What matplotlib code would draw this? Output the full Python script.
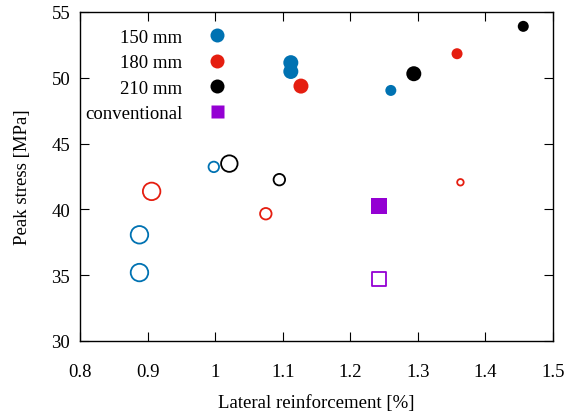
import numpy as np
import matplotlib
matplotlib.use("Agg")
import matplotlib.pyplot as plt
from matplotlib.lines import Line2D

plt.rcParams['font.family'] = ['Liberation Serif', 'DejaVu Serif']
plt.rcParams['font.size'] = 13.5

DPI = 100
FS = 13.5

# lateral reinforcement [%] / peak stress [MPa] / marker diameter [px]
x_150_full = [1.112, 1.112, 1.260]
y_150_full = [51.15, 50.48, 49.04]
d_150_full = [15, 15, 11]
x_150_open = [0.998, 0.888, 0.888]
y_150_open = [43.23, 38.07, 35.20]
d_150_open = [12, 19, 19]

x_180_full = [1.127, 1.358]
y_180_full = [49.37, 51.83]
d_180_full = [15, 11]
x_180_open = [0.906, 1.075, 1.363]
y_180_open = [41.37, 39.67, 42.06]
d_180_open = [19, 13, 8]

x_210_full = [1.294, 1.456]
y_210_full = [50.31, 53.91]
d_210_full = [15, 11]
x_210_open = [1.021, 1.095]
y_210_open = [43.48, 42.26]
d_210_open = [18, 13]

x_conv_full = [1.2425]
y_conv_full = [40.23]
x_conv_open = [1.2425]
y_conv_open = [34.72]
d_conv = [16]

labels = ["150 mm", "180 mm", "210 mm", "conventional"]
colors = ["#0072b2", "#e51e10", "#000000", "#9400d3"]


def area(d_px):
    # scatter wants points^2, sizes were read in pixels
    return (np.array(d_px) * 72.0 / DPI) ** 2


fig = plt.figure(figsize=(5.70, 4.14), dpi=DPI)
ax = fig.add_axes([80 / 570, 1 - 342 / 414, 473 / 570, 329 / 414])

groups = [
    (x_150_full, y_150_full, d_150_full, x_150_open, y_150_open, d_150_open, 'o', colors[0]),
    (x_180_full, y_180_full, d_180_full, x_180_open, y_180_open, d_180_open, 'o', colors[1]),
    (x_210_full, y_210_full, d_210_full, x_210_open, y_210_open, d_210_open, 'o', colors[2]),
    (x_conv_full, y_conv_full, d_conv, x_conv_open, y_conv_open, d_conv, 's', colors[3]),
]
for xf, yf, df, xo, yo, do, mk, c in groups:
    ax.scatter(xf, yf, s=area(df), marker=mk, color=c, linewidths=0, zorder=3)
    ax.scatter(xo, yo, s=area(np.array(do) - 1.5), marker=mk, facecolors='none',
               edgecolors=c, linewidths=1.3, zorder=3)

ax.set_xlim(0.8, 1.5)
ax.set_ylim(30, 55)
ax.set_xticks(np.arange(0.8, 1.51, 0.1))
ax.set_xticklabels(["0.8", "0.9", "1", "1.1", "1.2", "1.3", "1.4", "1.5"])
ax.set_yticks(np.arange(30, 56, 5))
ax.tick_params(direction='in', length=6.7, width=0.8, top=True, right=True,
               labelsize=FS)
ax.tick_params(axis='x', pad=16)
ax.tick_params(axis='y', pad=7)
for sp in ax.spines.values():
    sp.set_linewidth(1.0)

ax.set_xlabel("Lateral reinforcement [%]", fontsize=FS, labelpad=10)
ax.set_ylabel("Peak stress [MPa]", fontsize=FS, labelpad=15)

handles = [
    Line2D([], [], ls='none', marker='o', ms=14 * 72 / DPI, mfc=colors[0], mec='none'),
    Line2D([], [], ls='none', marker='o', ms=14 * 72 / DPI, mfc=colors[1], mec='none'),
    Line2D([], [], ls='none', marker='o', ms=14 * 72 / DPI, mfc=colors[2], mec='none'),
    Line2D([], [], ls='none', marker='s', ms=13 * 72 / DPI, mfc=colors[3], mec='none'),
]
leg = ax.legend(handles, labels, loc='upper left', bbox_to_anchor=(-0.005, 0.972),
                frameon=False, markerfirst=False, handletextpad=0.85,
                labelspacing=0.44, borderaxespad=0, fontsize=FS)
for t in leg.get_texts():
    t.set_ha('right')

fig.savefig("out.png", dpi=DPI)
